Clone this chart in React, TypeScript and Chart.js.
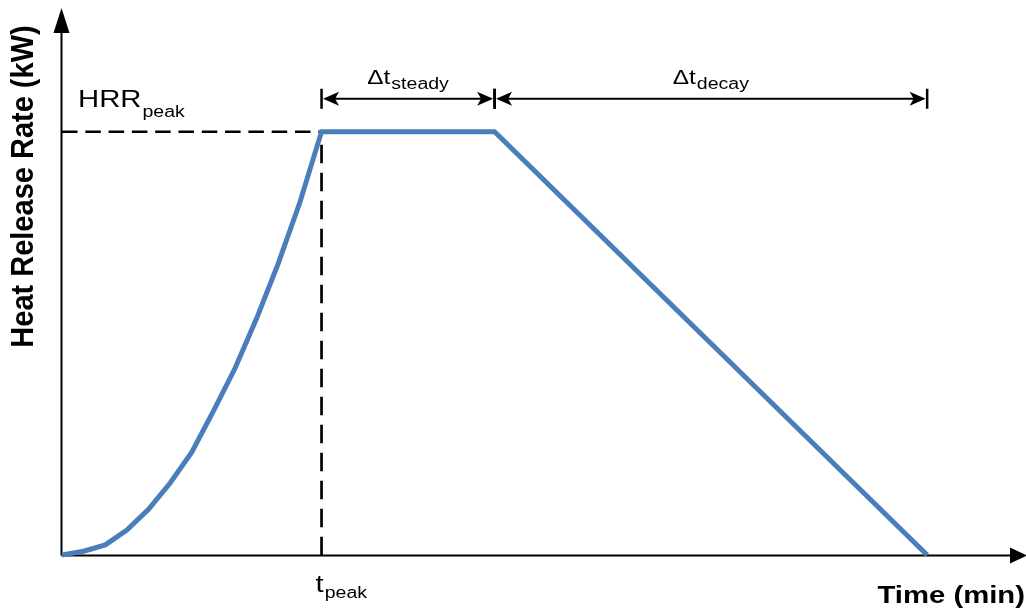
import { useEffect, useRef } from "react";
import { Chart, registerables } from "chart.js";

Chart.register(...registerables);

// ---- data (time in arbitrary minutes, HRR in % of peak) ----
const growthTime = [0, 1, 2, 3, 4, 5, 6, 7, 8, 9, 10, 11, 12];
const growthHRR = [0, 0.9, 2.4, 5.9, 10.8, 17.0, 24.3, 34.0, 44.1, 55.9, 68.9, 83.3, 100];
const steadyTime = [12, 20];
const steadyHRR = [100, 100];
const decayTime = [20, 40];
const decayHRR = [100, 0];
const tPeak = 12;
const hrrPeak = 100;
const xAxisMax = 44.57;
const yAxisMax = 129.2;

// ---- labels ----
const peakLabel = ["HRR", "peak"];
const steadyLabel = ["\u0394t", "steady"];
const decayLabel = ["\u0394t", "decay"];
const tPeakLabel = ["t", "peak"];
const xTitle = "Time (min)";
const yTitle = "Heat Release Rate (kW)";

const FAM = '"Liberation Sans", Arial, Helvetica, sans-serif';
const SX = 1.22;
const BLUE = "#4A7EBB";

function textW(ctx: CanvasRenderingContext2D, s: string, font: string, sx = SX) {
  ctx.save();
  ctx.font = font;
  const w = ctx.measureText(s).width * sx;
  ctx.restore();
  return w;
}

function txt(ctx: CanvasRenderingContext2D, s: string, x: number, y: number, font: string, sx = SX) {
  ctx.save();
  ctx.font = font;
  ctx.textAlign = "left";
  ctx.textBaseline = "alphabetic";
  ctx.fillStyle = "#000";
  ctx.translate(x, y);
  ctx.scale(sx, 1);
  ctx.fillText(s, 0, 0);
  ctx.restore();
}

function subLabel(
  ctx: CanvasRenderingContext2D,
  parts: string[],
  x: number,
  y: number,
  mainSize: number,
  subSize: number,
  drop: number,
  center = false
) {
  const f1 = `${mainSize}px ${FAM}`;
  const f2 = `${subSize}px ${FAM}`;
  const w1 = textW(ctx, parts[0], f1);
  const w2 = textW(ctx, parts[1], f2);
  const x0 = center ? x - (w1 + 1 + w2) / 2 : x;
  txt(ctx, parts[0], x0, y, f1);
  txt(ctx, parts[1], x0 + w1 + 1, y + drop, f2);
}

function head(ctx: CanvasRenderingContext2D, tipX: number, y: number, dir: number) {
  const L = 16, H = 7, N = 4;
  ctx.beginPath();
  ctx.moveTo(tipX, y);
  ctx.lineTo(tipX - dir * L, y - H);
  ctx.lineTo(tipX - dir * (L - N), y);
  ctx.lineTo(tipX - dir * L, y + H);
  ctx.closePath();
  ctx.fill();
}

function dimArrow(ctx: CanvasRenderingContext2D, x1: number, x2: number, y: number) {
  ctx.save();
  ctx.strokeStyle = "#000";
  ctx.fillStyle = "#000";
  ctx.lineWidth = 2;
  ctx.beginPath();
  ctx.moveTo(x1 + 4, y);
  ctx.lineTo(x2 - 4, y);
  ctx.stroke();
  head(ctx, x1 + 1.5, y, -1);
  head(ctx, x2 - 1.5, y, 1);
  ctx.lineWidth = 2.5;
  ctx.beginPath();
  ctx.moveTo(x1, y - 10);
  ctx.lineTo(x1, y + 10);
  ctx.moveTo(x2, y - 10);
  ctx.lineTo(x2, y + 10);
  ctx.stroke();
  ctx.restore();
}

const diagramPlugin = {
  id: "diagram",
  beforeDatasetsDraw(chart: any) {
    const ctx: CanvasRenderingContext2D = chart.ctx;
    const { left, right, top, bottom } = chart.chartArea;
    const ax = left - 0.5;
    const ay = bottom + 0.5;
    ctx.save();
    ctx.strokeStyle = "#000";
    ctx.fillStyle = "#000";
    ctx.lineWidth = 2;
    ctx.beginPath();
    ctx.moveTo(ax, ay);
    ctx.lineTo(ax, top + 24);
    ctx.moveTo(ax, ay);
    ctx.lineTo(right - 16, ay);
    ctx.stroke();
    // y arrow
    ctx.beginPath();
    ctx.moveTo(ax, top);
    ctx.lineTo(ax - 8, top + 25);
    ctx.lineTo(ax + 8, top + 25);
    ctx.closePath();
    ctx.fill();
    // x arrow
    ctx.beginPath();
    ctx.moveTo(right + 1, ay);
    ctx.lineTo(right - 16, ay - 8);
    ctx.lineTo(right - 16, ay + 8);
    ctx.closePath();
    ctx.fill();
    ctx.restore();
  },
  afterDatasetsDraw(chart: any) {
    const ctx: CanvasRenderingContext2D = chart.ctx;
    const xs = chart.scales.x;
    const ys = chart.scales.y;
    const { left, bottom } = chart.chartArea;
    const xPeak = xs.getPixelForValue(tPeak);
    const xSteady = xs.getPixelForValue(steadyTime[1]);
    const xDecay = xs.getPixelForValue(decayTime[1]);
    const yPeak = ys.getPixelForValue(hrrPeak);
    const arrowY = yPeak - 33;

    dimArrow(ctx, xPeak, xSteady, arrowY);
    dimArrow(ctx, xSteady, xDecay, arrowY);

    subLabel(ctx, steadyLabel, (xPeak + xSteady) / 2, arrowY - 15, 20, 16, 5, true);
    subLabel(ctx, decayLabel, (xSteady + xDecay) / 2, arrowY - 15, 20, 16, 5, true);
    subLabel(ctx, peakLabel, left + 16, yPeak - 24.5, 24, 16, 10);
    subLabel(ctx, tPeakLabel, xPeak - 6, bottom + 37, 24, 16, 6);

    // axis titles
    const fx = `bold 24px ${FAM}`;
    const w = textW(ctx, xTitle, fx);
    txt(ctx, xTitle, 1025 - w, 603, fx);

    ctx.save();
    ctx.font = `bold 29px ${FAM}`;
    ctx.fillStyle = "#000";
    ctx.textAlign = "center";
    ctx.textBaseline = "alphabetic";
    ctx.translate(33, 186.5);
    ctx.rotate(-Math.PI / 2);
    ctx.scale(1, 1.1);
    ctx.fillText(yTitle, 0, 0);
    ctx.restore();
  },
};

export default function App() {
  const ref = useRef<HTMLCanvasElement | null>(null);

  useEffect(() => {
    if (!ref.current) return;
    const curve = [
      ...growthTime.map((t, i) => ({ x: t, y: growthHRR[i] })),
      ...steadyTime.slice(1).map((t, i) => ({ x: t, y: steadyHRR[i + 1] })),
      ...decayTime.slice(1).map((t, i) => ({ x: t, y: decayHRR[i + 1] })),
    ];
    const chart = new Chart(ref.current, {
      type: "line",
      data: {
        datasets: [
          {
            data: curve,
            borderColor: BLUE,
            borderWidth: 5,
            tension: 0,
            pointRadius: 0,
            clip: false as any,
            order: 0,
            borderJoinStyle: "miter",
          },
          {
            data: [
              { x: 0, y: hrrPeak },
              { x: tPeak, y: hrrPeak },
            ],
            borderColor: "#000",
            borderWidth: 2.5,
            borderDash: [15.5, 7.8],
            pointRadius: 0,
            clip: false as any,
            order: 1,
          },
          {
            data: [
              { x: tPeak, y: hrrPeak },
              { x: tPeak, y: 0 },
            ],
            borderColor: "#000",
            borderWidth: 2.7,
            borderDash: [18.5, 9.5],
            borderDashOffset: 15,
            pointRadius: 0,
            clip: false as any,
            order: 1,
          },
        ],
      },
      options: {
        animation: false,
        responsive: false,
        devicePixelRatio: 1,
        layout: { padding: { left: 62, right: 0, top: 8, bottom: 59 } },
        scales: {
          x: { type: "linear", min: 0, max: xAxisMax, display: false },
          y: { type: "linear", min: 0, max: yAxisMax, display: false },
        },
        plugins: {
          legend: { display: false },
          tooltip: { enabled: false },
        },
        events: [],
      },
      plugins: [diagramPlugin],
    } as any);
    return () => chart.destroy();
  }, []);

  return (
    <div style={{ position: "absolute", left: 0, top: 0, width: 1026, height: 614, background: "#fff" }}>
      <canvas ref={ref} width={1026} height={614} style={{ display: "block" }} />
    </div>
  );
}
